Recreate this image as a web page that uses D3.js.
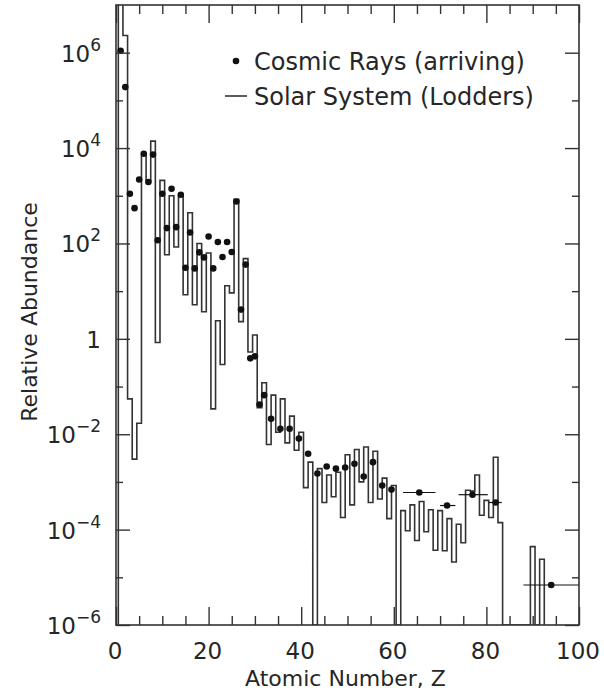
<!DOCTYPE html>
<html>
<head>
<meta charset="utf-8">
<script src="https://cdn.jsdelivr.net/npm/d3@7"></script>
<style>
  body { margin: 0; background: #fff; }
  svg text { font-family: "DejaVu Sans", sans-serif; fill: #262626; }
</style>
</head>
<body>
<div class="graph"></div>
<script>
// solar system abundances (Lodders), Si = 1000, one value per Z = 1..92, 0 = none
var solarZ = d3.range(1, 93);
var solarAbund = [
  2.4e7, 2.3e6, 5.5e-2, 3.0e-3, 1.7e-2, 7.1e3, 2.0e3, 1.4e4, 0.84, 2.1e3,
  58, 1.0e3, 84, 1.0e3, 8.4, 440, 5.2, 100, 3.7, 63,
  0.034, 2.4, 0.29, 13, 9.2, 840, 2.3, 48, 0.53, 1.2,
  0.036, 0.12, 0.0061, 0.066, 0.011, 0.055, 0.0066, 0.024, 0.0046, 0.011,
  0.00076, 0.0026, 0, 0.0019, 0.00037, 0.0014, 0.00049, 0.0016, 0.00018, 0.0037,
  0.00033, 0.0048, 0.0010, 0.0054, 0.00037, 0.0044, 0.00044, 0.0012, 0.00017, 0.00084,
  0, 0.00025, 0.000095, 0.00033, 0.000059, 0.00039, 0.000090, 0.00026, 0.000037, 0.00025,
  0.000036, 0.00017, 0.000021, 0.00013, 0.000053, 0.00067, 0.00064, 0.0014, 0.00020, 0.00041,
  0.00018, 0.0033, 0.00014, 0, 0, 0, 0, 0, 0, 0.000044,
  0, 0.000024
];

// cosmic rays (arriving), single elements Z = 1..32
var crZ = d3.range(1, 33);
var crAbund = [
  1.1e6, 1.9e5, 1.1e3, 550, 2.2e3, 7.6e3, 1.95e3, 7.3e3, 117, 1.1e3,
  210, 1.4e3, 220, 1.05e3, 31, 170, 30, 65, 51, 140,
  30, 107, 52, 107, 66, 760, 4.1, 36, 0.39, 0.43,
  0.042, 0.066
];

// charge pairs (33-34, 35-36, ...)
var crPairZ = [33.5, 35.5, 37.5, 39.5, 41.5, 43.5, 45.5, 47.5, 49.5, 51.5, 53.5, 55.5, 57.5, 59.5];
var crPairAbund = [0.021, 0.013, 0.013, 0.0081, 0.0039, 0.0015, 0.0021, 0.0019, 0.0020, 0.0024, 0.0013, 0.0026, 0.00084, 0.00069];

// wide charge groups
var crGroupLo = [62, 70, 74, 80.5, 88];
var crGroupHi = [69, 73.3, 80.3, 83.3, 100];
var crGroupZ = [65.5, 71.5, 77, 82, 94];
var crGroupAbund = [6.0e-4, 3.2e-4, 5.4e-4, 3.7e-4, 6.9e-6];

var xMajor = [0, 20, 40, 60, 80, 100];
var yExp = [-6, -4, -2, 0, 2, 4, 6];

var margin = { top: 5, right: 25, bottom: 67, left: 116 };
var width = 604 - margin.left - margin.right;
var height = 692 - margin.top - margin.bottom;

var svg = d3.select(".graph").append("svg")
    .attr("width", 604)
    .attr("height", 692);

var g = svg.append("g")
    .attr("transform", "translate(" + margin.left + "," + margin.top + ")");

var x = d3.scaleLinear().domain([0, 100]).range([0, width]);
var y = d3.scaleLog().domain([1e-6, 1e7]).range([height, 0]);

g.append("clipPath").attr("id", "clip")
  .append("rect").attr("width", width).attr("height", height);

//=========== solar system step line ===========
var pts = [[x(0.5), height]];
solarZ.forEach(function (z, i) {
    var yy = solarAbund[i] > 0 ? y(solarAbund[i]) : height;
    pts.push([x(z - 0.5), yy]);
    pts.push([x(z + 0.5), yy]);
});
pts.push([x(92.5), height]);

g.append("path")
    .attr("clip-path", "url(#clip)")
    .attr("d", d3.line()(pts))
    .attr("fill", "none")
    .attr("stroke", "#333")
    .attr("stroke-width", 1.6);

//=========== cosmic ray points ===========
var dotColor = "#111";
g.selectAll(".cr")
    .data(crZ)
    .enter().append("circle")
    .attr("cx", function (d) { return x(d); })
    .attr("cy", function (d, i) { return y(crAbund[i]); })
    .attr("r", 3.3)
    .attr("fill", dotColor);

g.selectAll(".crpair")
    .data(crPairZ)
    .enter().append("circle")
    .attr("cx", function (d) { return x(d); })
    .attr("cy", function (d, i) { return y(crPairAbund[i]); })
    .attr("r", 3.3)
    .attr("fill", dotColor);

g.selectAll(".crbar")
    .data(crGroupZ)
    .enter().append("line")
    .attr("x1", function (d, i) { return x(crGroupLo[i]); })
    .attr("x2", function (d, i) { return x(crGroupHi[i]); })
    .attr("y1", function (d, i) { return y(crGroupAbund[i]); })
    .attr("y2", function (d, i) { return y(crGroupAbund[i]); })
    .attr("stroke", dotColor)
    .attr("stroke-width", 1.2);

g.selectAll(".crgroup")
    .data(crGroupZ)
    .enter().append("circle")
    .attr("cx", function (d) { return x(d); })
    .attr("cy", function (d, i) { return y(crGroupAbund[i]); })
    .attr("r", 3.3)
    .attr("fill", dotColor);

//=============== axes (ticks inside, on all four sides) ===============
var yMajor = yExp.map(function (e) { return Math.pow(10, e); });
var yMinor = d3.range(-5, 7, 2).map(function (e) { return Math.pow(10, e); });
var xMinor = d3.range(5, 100, 5).filter(function (v) { return v % 20 != 0; });

function tickAxis(axis, vals, size, tr) {
    var a = g.append("g")
        .attr("transform", tr)
        .call(axis.tickValues(vals).tickSize(-size).tickFormat(""));
    a.select(".domain").remove();
    a.selectAll("line").attr("stroke", "#333").attr("stroke-width", 1.4);
}

tickAxis(d3.axisBottom(x), xMajor, 18, "translate(0," + height + ")");
tickAxis(d3.axisBottom(x), xMinor, 9, "translate(0," + height + ")");
tickAxis(d3.axisTop(x), xMajor, 18, "translate(0,0)");
tickAxis(d3.axisTop(x), xMinor, 9, "translate(0,0)");
tickAxis(d3.axisLeft(y), yMajor, 14, "translate(0,0)");
tickAxis(d3.axisLeft(y), yMinor, 7, "translate(0,0)");
tickAxis(d3.axisRight(y), yMajor, 14, "translate(" + width + ",0)");
tickAxis(d3.axisRight(y), yMinor, 7, "translate(" + width + ",0)");

g.append("rect")
    .attr("width", width)
    .attr("height", height)
    .attr("fill", "none")
    .attr("stroke", "#333")
    .attr("stroke-width", 1.6);

// x tick labels
g.selectAll(".xlab")
    .data(xMajor)
    .enter().append("text")
    .attr("x", function (d) { return x(d) - 1; })
    .attr("y", height + 34)
    .attr("text-anchor", "middle")
    .style("font-size", "23px")
    .text(function (d) { return d; });

// y tick labels, 10 with superscript exponent
var ylab = g.selectAll(".ylab")
    .data(yExp)
    .enter().append("text")
    .attr("x", -15)
    .attr("y", function (d) { return y(Math.pow(10, d)) + 9; })
    .attr("text-anchor", "end")
    .style("font-size", "23px");
ylab.append("tspan")
    .text(function (d) { return d == 0 ? "1" : "10"; });
ylab.filter(function (d) { return d != 0; })
    .append("tspan")
    .attr("dy", -11)
    .style("font-size", "17px")
    .text(function (d) { return String(d).replace("-", "\u2212"); });

// axis titles
g.append("text")
    .attr("x", width / 2 - 2)
    .attr("y", height + 61)
    .attr("text-anchor", "middle")
    .style("font-size", "22px")
    .text("Atomic Number, Z");

svg.append("text")
    .attr("transform", "translate(37,312) rotate(-90)")
    .attr("text-anchor", "middle")
    .style("font-size", "22px")
    .text("Relative Abundance");

//=============== legend ===============
svg.append("circle").attr("cx", 236).attr("cy", 61).attr("r", 3.3).attr("fill", dotColor);
svg.append("line")
    .attr("x1", 225).attr("x2", 247)
    .attr("y1", 96).attr("y2", 96)
    .attr("stroke", "#333").attr("stroke-width", 1.6);
svg.append("text").attr("x", 254).attr("y", 70).style("font-size", "24px").text("Cosmic Rays (arriving)");
svg.append("text").attr("x", 254).attr("y", 105).style("font-size", "24px").text("Solar System (Lodders)");
</script>
</body>
</html>
